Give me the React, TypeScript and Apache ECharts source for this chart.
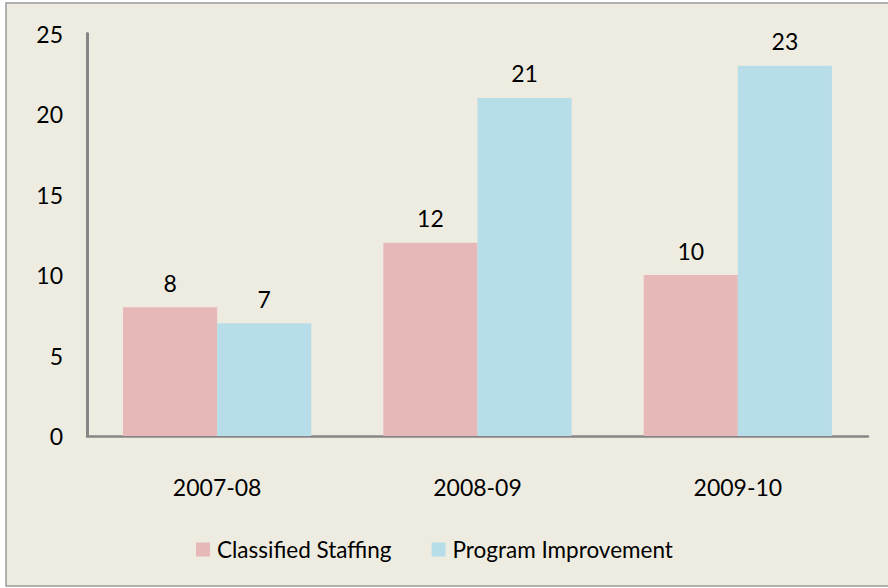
import React, { useEffect, useRef } from "react";
import * as echarts from "echarts";

const categories = ["2007-08", "2008-09", "2009-10"];
const classifiedStaffing = [8, 12, 10];
const programImprovement = [7, 21, 23];
const seriesNames = ["Classified Staffing", "Program Improvement"];

const FONT = "Lato";

export default function App() {
  const ref = useRef<HTMLDivElement>(null);
  useEffect(() => {
    document.body.style.margin = "0";
    const chart = echarts.init(ref.current!, null, { renderer: "svg" });
    const label = {
      show: true,
      position: "top" as const,
      distance: 13,
      color: "#000",
      fontFamily: FONT,
      fontSize: 23,
    };
    chart.setOption({
      animation: false,
      backgroundColor: "#ffffff",
      graphic: [
        {
          type: "rect",
          z: -10,
          silent: true,
          shape: { x: 6, y: 3, width: 950, height: 583 },
          style: { fill: "#EEECE1", stroke: "#9b9b9b", lineWidth: 1.5 },
        },
      ],
      grid: { left: 87, right: 20, top: 33.5, bottom: 152 },
      legend: {
        left: 191,
        top: 533,
        icon: "rect",
        itemWidth: 14,
        itemHeight: 14,
        itemGap: 40,
        textStyle: { fontFamily: FONT, fontSize: 22.5, color: "#000", padding: [0, 0, 0, 2] },
        data: seriesNames,
      },
      xAxis: {
        type: "category",
        data: categories,
        axisLine: { show: true, lineStyle: { color: "#868686", width: 2.5 } },
        axisTick: { show: false },
        axisLabel: { fontFamily: FONT, fontSize: 23, color: "#000", margin: 39 },
      },
      yAxis: {
        type: "value",
        min: 0,
        max: 25,
        interval: 5,
        axisLine: { show: true, lineStyle: { color: "#868686", width: 3 } },
        axisTick: { show: false },
        splitLine: { show: false },
        axisLabel: { fontFamily: FONT, fontSize: 23, color: "#000", margin: 24 },
      },
      series: [
        {
          name: seriesNames[0],
          type: "bar",
          data: classifiedStaffing,
          itemStyle: { color: "#E6B8B7" },
          barGap: "0%",
          barCategoryGap: "27.7%",
          label,
        },
        {
          name: seriesNames[1],
          type: "bar",
          data: programImprovement,
          itemStyle: { color: "#B7DDE8" },
          barGap: "0%",
          barCategoryGap: "27.7%",
          label,
        },
      ],
    });
    return () => chart.dispose();
  }, []);
  return <div ref={ref} style={{ width: 888, height: 588 }} />;
}
